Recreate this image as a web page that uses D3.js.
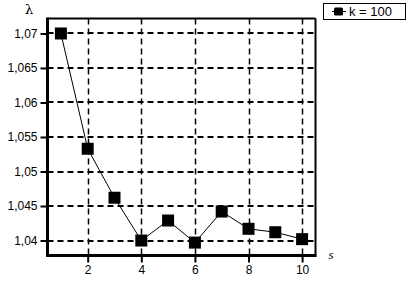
<!DOCTYPE html>
<html><head><meta charset="utf-8">
<script src="https://cdn.jsdelivr.net/npm/d3@7"></script>
<style>body{margin:0;background:#fff}svg{display:block}</style>
</head><body>
<script>
const sValues = [1,2,3,4,5,6,7,8,9,10];
const lambdaValues = [1.0700,1.0533,1.0462,1.0400,1.0429,1.0397,1.0442,1.0417,1.0412,1.0402];
const xTicks = [2,4,6,8,10];
const yTicks = [1.04,1.045,1.05,1.055,1.06,1.065,1.07];
const seriesName = "k = 100";

const W=408,H=285;
const L=47.5,R=315.5,T=18.5,B=255.5;
const svg=d3.select("body").append("svg").attr("width",W).attr("height",H);
const x=d3.scaleLinear().domain([0.5,10.5]).range([L,R]);
const y=d3.scaleLinear().domain([1.03783,1.07217]).range([B,T]);
const font="Liberation Sans, Arial, sans-serif";
const fmt=d=>String(+d.toFixed(3)).replace(".",",");

// grid
svg.append("g").selectAll("line").data(yTicks).join("line")
 .attr("x1",L).attr("x2",R).attr("y1",d=>Math.round(y(d))).attr("y2",d=>Math.round(y(d)))
 .attr("stroke","#000").attr("stroke-width",2).attr("stroke-dasharray","6,4");
svg.append("g").selectAll("line").data(xTicks).join("line")
 .attr("y1",T).attr("y2",B).attr("x1",d=>Math.round(x(d))+0.5).attr("x2",d=>Math.round(x(d))+0.5)
 .attr("stroke","#000").attr("stroke-width",1.5).attr("stroke-dasharray","6,4");

// frame
svg.append("line").attr("x1",L).attr("x2",R).attr("y1",T).attr("y2",T).attr("stroke","#000").attr("stroke-width",2);
svg.append("line").attr("x1",R).attr("x2",R).attr("y1",T).attr("y2",B).attr("stroke","#000").attr("stroke-width",2);

// axes
const ya=svg.append("g").attr("transform",`translate(${L},0)`)
 .call(d3.axisLeft(y).tickValues(yTicks).tickFormat(fmt).tickSize(7).tickPadding(3));
const xa=svg.append("g").attr("transform",`translate(0,${B})`)
 .call(d3.axisBottom(x).tickValues(xTicks).tickFormat(d3.format("d")).tickSize(7).tickPadding(3));
[ya,xa].forEach(g=>{
 g.select(".domain").remove();
 g.selectAll(".tick line").attr("stroke","#000").attr("stroke-width",2);
 g.selectAll("text").attr("font-family",font).attr("font-size",12).attr("fill","#000");
});
svg.append("line").attr("x1",L).attr("x2",L).attr("y1",T-1).attr("y2",B+1.5).attr("stroke","#000").attr("stroke-width",3);
svg.append("line").attr("x1",L-1.5).attr("x2",R+1).attr("y1",B).attr("y2",B).attr("stroke","#000").attr("stroke-width",3);

// series
const pts=sValues.map((s,i)=>[s,lambdaValues[i]]);
svg.append("path").datum(pts).attr("fill","none").attr("stroke","#000").attr("stroke-width",1)
 .attr("d",d3.line().x(d=>x(d[0])).y(d=>y(d[1])));
const sz=12;
svg.append("g").selectAll("rect").data(pts).join("rect")
 .attr("x",d=>x(d[0])-sz/2).attr("y",d=>y(d[1])-sz/2).attr("width",sz).attr("height",sz).attr("fill","#000");

// axis titles
svg.append("text").attr("x",29).attr("y",14).attr("text-anchor","middle")
 .attr("font-family","DejaVu Serif, serif").attr("font-size",13).text("λ");
svg.append("text").attr("x",331).attr("y",259).attr("text-anchor","middle")
 .attr("font-family","Liberation Serif, serif").attr("font-style","italic").attr("font-size",13).text("s");

// legend
const lg=svg.append("g");
lg.append("rect").attr("x",323.5).attr("y",3.5).attr("width",82).attr("height",16).attr("fill","#fff").attr("stroke","#000").attr("stroke-width",1);
lg.append("line").attr("x1",332).attr("x2",346).attr("y1",11.5).attr("y2",11.5).attr("stroke","#000").attr("stroke-width",1);
lg.append("rect").attr("x",334).attr("y",7.5).attr("width",9).attr("height",8).attr("rx",1.5).attr("fill","#000");
lg.append("text").attr("x",349).attr("y",16).attr("font-family",font).attr("font-size",13).text(seriesName);
</script>
</body></html>
